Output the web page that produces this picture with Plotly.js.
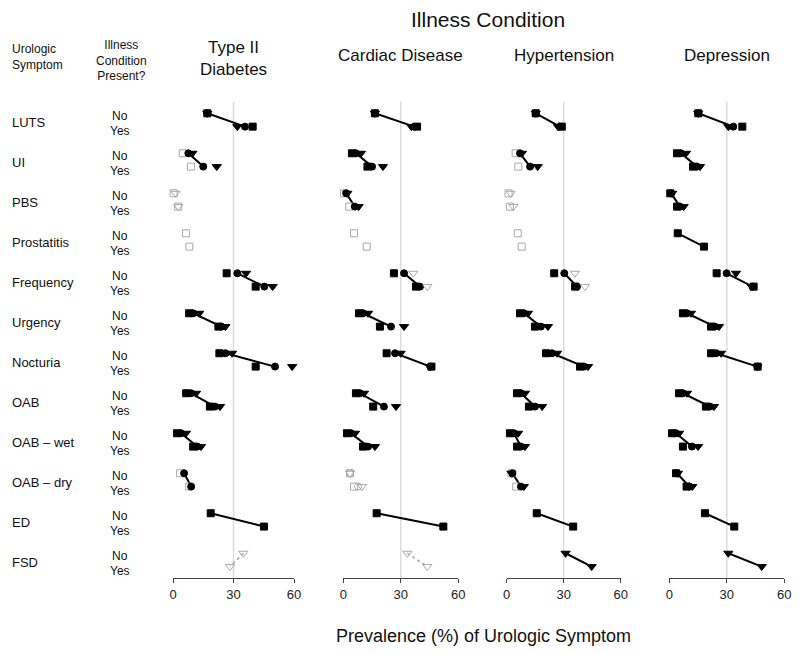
<!DOCTYPE html>
<html><head><meta charset="utf-8">
<script src="https://cdn.plot.ly/plotly-3.0.1.min.js"></script>
<style>html,body{margin:0;padding:0;background:#fff}#chart{width:800px;height:654px}</style>
</head><body><div id="chart"></div>
<script>
const symptoms = ['LUTS','UI','PBS','Prostatitis','Frequency','Urgency','Nocturia','OAB','OAB – wet','OAB – dry','ED','FSD'];
const conditions = ['Type II<br>Diabetes','Cardiac Disease','Hypertension','Depression'];
const tickVals = [0, 30, 60];

// Type II Diabetes
const diabSqNo  = [17, 4.8, 0.3, 6.4, 26.6, 8, 23, 6.5, 2, 3.5, 18.7, null];
const diabSqYes = [39.5, 8.9, 2.6, 8.1, 41, 22.5, 41, 18.3, 10, 8, 45.1, null];
const diabSqSig = [1,0,0,0,1,1,1,1,1,0,1,0];
const diabCiNo  = [17, 7.6, null, null, 31.9, 10, 26, 9, 4, 5.5, null, null];
const diabCiYes = [35.7, 15, null, null, 45.3, 24, 50.6, 20.8, 12, 9, null, null];
const diabCiSig = [1,1,0,0,1,1,1,1,1,1,0,0];
const diabTrNo  = [17, 9.6, 1.2, null, 36.2, 13, 29.3, 11.4, 6.4, null, null, 34.9];
const diabTrYes = [31.9, 21.7, 2.6, null, 49.4, 26, 59.1, 23.3, 13.9, null, null, 28.3];
const diabTrSig = [1,1,0,0,1,1,1,1,1,0,0,0];
const diabLink  = ['c','c',null,null,'c','c','c','c','c','c','s','t'];

// Cardiac Disease
const cardSqNo  = [16.5, 4.5, 0.4, 5.6, 26.4, 8.2, 22.6, 6.6, 1.9, 3.5, 17.4, null];
const cardSqYes = [38.5, 12.6, 3.1, 12.2, 37.9, 19.1, 46, 15.6, 10.3, 5.6, 52.2, null];
const cardSqSig = [1,1,0,0,1,1,1,1,1,0,1,0];
const cardCiNo  = [16.5, 6.6, 1.5, null, 31.7, 10.3, 27, 8.7, 4, 3.5, null, null];
const cardCiYes = [37, 15, 6, null, 40, 24.9, 45.5, 21.2, 12.9, 7.7, null, null];
const cardCiSig = [1,1,1,0,1,1,1,1,1,0,0,0];
const cardTrNo  = [16.5, 9.2, 2.1, null, 36.5, 12.9, 29.9, 10.8, 6.1, 3.5, null, 33.4];
const cardTrYes = [35.5, 20.7, 8, null, 43.8, 31.7, 45, 27.5, 16.5, 9.7, null, 43.8];
const cardTrSig = [1,1,1,0,0,1,1,1,1,0,0,0];
const cardLink  = ['c','c','c',null,'c','c','c','c','c',null,'s','t'];

// Hypertension
const hypSqNo  = [15.3, 4.7, 1, 5.8, 25, 7, 20.7, 5.4, 1.7, 2.5, 15.8, null];
const hypSqYes = [29, 6.1, 1.7, 7.9, 36, 14.9, 38.6, 11.7, 5.4, 5, 35, null];
const hypSqSig = [1,0,0,0,1,1,1,1,1,0,1,0];
const hypCiNo  = [15.3, 7, null, null, 30.3, 9.1, 23.8, 7.5, 3.8, 3, null, null];
const hypCiYes = [28, 12.3, null, null, 37, 18, 40.7, 14.9, 7.5, 7.5, null, null];
const hypCiSig = [1,1,0,0,1,1,1,1,1,1,0,0];
const hypTrNo  = [15.3, 8, 2.1, null, 35.9, 11.2, 26.5, 9.6, 6, 2.5, null, 31];
const hypTrYes = [27, 16.3, 3.5, null, 41.2, 21.7, 42.8, 18.6, 9.6, 9, null, 44.7];
const hypTrSig = [1,1,0,0,0,1,1,1,1,1,0,1];
const hypLink  = ['c','c',null,null,'c','c','c','c','c','c','s','t'];

// Depression
const depSqNo  = [15.1, 4, 0.5, 4.4, 24.7, 7.1, 21.8, 5.1, 1.4, 3.5, 18.6, null];
const depSqYes = [38.1, 12.4, 4, 18.1, 44, 21.8, 46.1, 19.1, 7.1, 9, 33.9, null];
const depSqSig = [1,1,1,1,1,1,1,1,1,1,1,0];
const depCiNo  = [15.1, 6.1, 1, null, 29.9, 9.2, 24.4, 7.1, 3.5, 4, null, null];
const depCiYes = [33.4, 14.4, 5.5, null, 43.5, 23.8, 46, 21.2, 11.8, 10.5, null, null];
const depCiSig = [1,1,1,0,1,1,1,1,1,1,0,0];
const depTrNo  = [15.1, 8.7, 1.5, null, 34.8, 11.3, 27, 9.2, 5.1, 4.5, null, 30.8];
const depTrYes = [30.8, 16, 7.5, null, 43, 25.9, 45.8, 23.3, 15, 12, null, 48.2];
const depTrSig = [1,1,1,0,1,1,1,1,1,1,0,1];
const depLink  = ['c','c','c','s','c','c','c','c','c','c','s','t'];

const panels = [
  {s:[diabSqNo,diabSqYes,diabSqSig], c:[diabCiNo,diabCiYes,diabCiSig], t:[diabTrNo,diabTrYes,diabTrSig], link:diabLink},
  {s:[cardSqNo,cardSqYes,cardSqSig], c:[cardCiNo,cardCiYes,cardCiSig], t:[cardTrNo,cardTrYes,cardTrSig], link:cardLink},
  {s:[hypSqNo,hypSqYes,hypSqSig], c:[hypCiNo,hypCiYes,hypCiSig], t:[hypTrNo,hypTrYes,hypTrSig], link:hypLink},
  {s:[depSqNo,depSqYes,depSqSig], c:[depCiNo,depCiYes,depCiSig], t:[depTrNo,depTrYes,depTrSig], link:depLink}
];

const W = 800, H = 654;
const domainsPx = [[173, 294], [343.3, 458.3], [506.7, 620.7], [669.3, 784.3]];
const yTopPx = 101.7, yBotPx = 578.3;
const yPos = (i, yes) => i * 3 + (yes ? 1 : 0);
const FONT = 'Liberation Sans, Arial, Helvetica, sans-serif';
const GRAY = '#a8a8a8';

const symbols = {s:'square', c:'circle', t:'triangle-down'};
const sizes = {s:7, c:7, t:8};
const traces = [];
const layout = {
  width: W, height: H, margin: {l:0, r:0, t:0, b:0},
  paper_bgcolor: '#fff', plot_bgcolor: 'rgba(0,0,0,0)',
  showlegend: false, font: {family: FONT, color: '#111'},
  yaxis: {domain: [1 - yBotPx / H, 1 - yTopPx / H], range: [34.88, -0.87], visible: false, fixedrange: true},
  shapes: [], annotations: []
};

panels.forEach((p, k) => {
  const ax = k === 0 ? 'x' : 'x' + (k + 1);
  const axKey = k === 0 ? 'xaxis' : 'xaxis' + (k + 1);
  layout[axKey] = {
    domain: [domainsPx[k][0] / W, domainsPx[k][1] / W], range: [0, 60], anchor: 'y',
    tickvals: tickVals, ticktext: tickVals.map(String), ticks: 'outside', ticklen: 4, tickcolor: '#444',
    showline: true, linecolor: '#444', linewidth: 1, showgrid: false, zeroline: false,
    tickfont: {size: 13, color: '#222', family: FONT}
  };
  layout.shapes.push({type: 'line', xref: ax, yref: 'y domain', x0: 30, x1: 30, y0: 0, y1: 1,
    line: {color: '#dcdcdc', width: 1.5}, layer: 'below'});
  const solid = {x: [], y: []}, dotted = {x: [], y: []};
  p.link.forEach((l, i) => {
    if (!l) return;
    const ser = p[l];
    const tgt = ser[2][i] ? solid : dotted;
    tgt.x.push(ser[0][i], ser[1][i], null);
    tgt.y.push(yPos(i, false), yPos(i, true), null);
  });
  traces.push({type: 'scatter', mode: 'lines', xaxis: ax, yaxis: 'y', x: dotted.x, y: dotted.y,
    line: {color: GRAY, width: 1.5, dash: 'dot'}, hoverinfo: 'skip', cliponaxis: false});
  traces.push({type: 'scatter', mode: 'lines', xaxis: ax, yaxis: 'y', x: solid.x, y: solid.y,
    line: {color: '#000', width: 2}, hoverinfo: 'skip', cliponaxis: false});
  ['s', 'c', 't'].forEach(key => {
    const [no, yes, sig] = p[key];
    const xs = [], ys = [], cols = [], syms = [];
    no.forEach((v, i) => {
      if (v === null) return;
      [[v, false], [yes[i], true]].forEach(([val, isYes]) => {
        if (val === null) return;
        xs.push(val); ys.push(yPos(i, isYes));
        cols.push(sig[i] ? '#000' : GRAY);
        syms.push(sig[i] ? symbols[key] : symbols[key] + '-open');
      });
    });
    traces.push({type: 'scatter', mode: 'markers', xaxis: ax, yaxis: 'y', x: xs, y: ys, cliponaxis: false,
      marker: {symbol: syms, color: cols, size: sizes[key], line: {color: cols, width: 1}}, hoverinfo: 'x'});
  });
  const cx = (domainsPx[k][0] + domainsPx[k][1]) / 2 / W;
  layout.annotations.push({xref: 'paper', yref: 'paper', x: cx, y: 1 - (k === 0 ? 59 : 55) / H,
    text: conditions[k], showarrow: false, xanchor: 'center', yanchor: 'middle',
    font: {size: 17, color: '#111', family: FONT}});
});

symptoms.forEach((s, i) => {
  layout.annotations.push({xref: 'paper', yref: 'y', x: 10 / W, y: yPos(i, false) + 0.5, yshift: -3,
    text: s, showarrow: false, xanchor: 'left', yanchor: 'middle', font: {size: 13, color: '#111', family: FONT}});
  layout.annotations.push({xref: 'paper', yref: 'y', x: 120 / W, y: yPos(i, false), yshift: -2.5,
    text: 'No', showarrow: false, xanchor: 'center', yanchor: 'middle', font: {size: 12, color: '#111', family: FONT}});
  layout.annotations.push({xref: 'paper', yref: 'y', x: 120 / W, y: yPos(i, true), yshift: -4.5,
    text: 'Yes', showarrow: false, xanchor: 'center', yanchor: 'middle', font: {size: 12, color: '#111', family: FONT}});
});

layout.annotations.push({xref: 'paper', yref: 'paper', x: 10 / W, y: 1 - 57 / H, text: 'Urologic<br>Symptom',
  showarrow: false, xanchor: 'left', yanchor: 'middle', align: 'left', font: {size: 12, color: '#111', family: FONT}});
layout.annotations.push({xref: 'paper', yref: 'paper', x: 121 / W, y: 1 - 60 / H, text: 'Illness<br>Condition<br>Present?',
  showarrow: false, xanchor: 'center', yanchor: 'middle', align: 'center', font: {size: 12, color: '#111', family: FONT}});
layout.annotations.push({xref: 'paper', yref: 'paper', x: 488 / W, y: 1 - 20 / H, text: 'Illness Condition',
  showarrow: false, xanchor: 'center', yanchor: 'middle', font: {size: 21, color: '#111', family: FONT}});
layout.annotations.push({xref: 'paper', yref: 'paper', x: 483 / W, y: 1 - 636 / H, text: 'Prevalence (%) of Urologic Symptom',
  showarrow: false, xanchor: 'center', yanchor: 'middle', font: {size: 18, color: '#111', family: FONT}});

Plotly.newPlot('chart', traces, layout, {displayModeBar: false, staticPlot: true});
</script></body></html>
